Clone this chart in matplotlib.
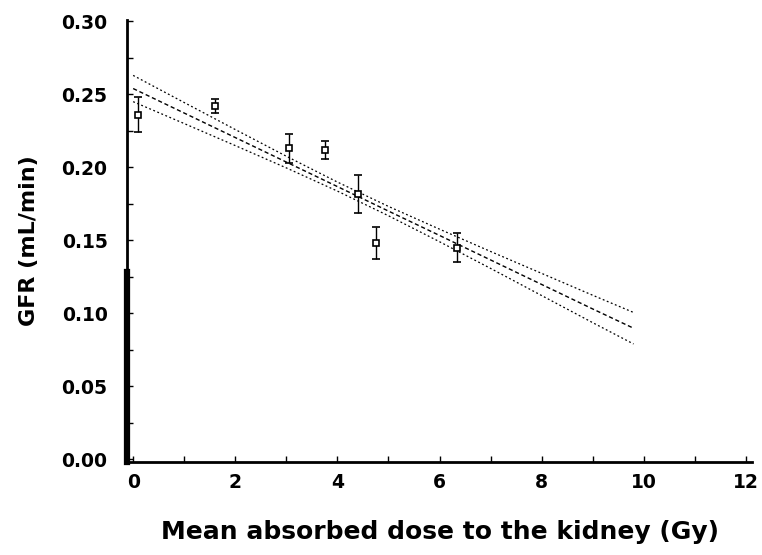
import matplotlib
matplotlib.use("Agg")
import matplotlib.pyplot as plt
from matplotlib.ticker import MultipleLocator

# data: measured points
dose = [0.1, 1.6, 3.05, 3.75, 4.4, 4.75, 6.35]
gfr = [0.236, 0.242, 0.213, 0.212, 0.182, 0.148, 0.145]
gfr_err = [0.012, 0.005, 0.010, 0.006, 0.013, 0.011, 0.010]

# regression line and its confidence band
fit_x = [0, 1, 2, 3, 4, 5, 6, 7, 8, 9, 9.8]
fit_mid = [0.254, 0.2372, 0.2204, 0.2036, 0.1868, 0.1700, 0.1533, 0.1365, 0.1197, 0.1029, 0.0897]
fit_upper = [0.263, 0.2444, 0.2259, 0.2076, 0.1899, 0.1732, 0.1576, 0.1423, 0.1273, 0.1123, 0.1005]
fit_lower = [0.245, 0.2300, 0.2149, 0.1996, 0.1837, 0.1668, 0.1490, 0.1307, 0.1121, 0.0935, 0.0789]

x_ticks = [0, 2, 4, 6, 8, 10, 12]
y_ticks = [0.00, 0.05, 0.10, 0.15, 0.20, 0.25, 0.30]

fig = plt.figure(figsize=(7.62, 5.55), dpi=100)
ax = fig.add_axes([0.1667, 0.1676, 0.8202, 0.7964])

ax.plot(fit_x, fit_mid, color="black", lw=1.0, ls=(0, (3, 2)))
ax.plot(fit_x, fit_upper, color="black", lw=0.9, ls=(0, (1.5, 2)))
ax.plot(fit_x, fit_lower, color="black", lw=0.9, ls=(0, (1.5, 2)))

ax.errorbar(dose, gfr, yerr=gfr_err, fmt="s", color="black", ms=4.5,
            mfc="white", mec="black", mew=1.2, ecolor="black", elinewidth=1.0,
            capsize=3, capthick=1.0)

ax.set_xlim(-0.12, 12.12)
ax.set_ylim(-0.002, 0.301)
ax.set_xticks(x_ticks)
ax.set_yticks(y_ticks)
ax.set_yticklabels([f"{v:.2f}" for v in y_ticks])
ax.xaxis.set_minor_locator(MultipleLocator(1))
ax.yaxis.set_minor_locator(MultipleLocator(0.025))
ax.tick_params(which="both", direction="in", length=4, width=1.0)
ax.tick_params(axis="y", which="major", labelsize=13.5, pad=14)
ax.tick_params(axis="x", which="major", labelsize=13.5, pad=8)
for lab in ax.get_xticklabels() + ax.get_yticklabels():
    lab.set_fontweight("bold")

ax.spines["top"].set_visible(False)
ax.spines["right"].set_visible(False)
ax.spines["left"].set_linewidth(2.0)
ax.spines["bottom"].set_linewidth(2.0)
# heavier lower part of left axis (as in the scan)
ax.axvline(-0.12, ymin=0, ymax=0.43, color="black", lw=4.5, clip_on=False)

ax.set_xlabel("Mean absorbed dose to the kidney (Gy)", fontsize=18,
              fontweight="bold", labelpad=20)
ax.set_ylabel("GFR (mL/min)", fontsize=16, fontweight="bold", labelpad=16)

fig.savefig("out.png", dpi=100)
